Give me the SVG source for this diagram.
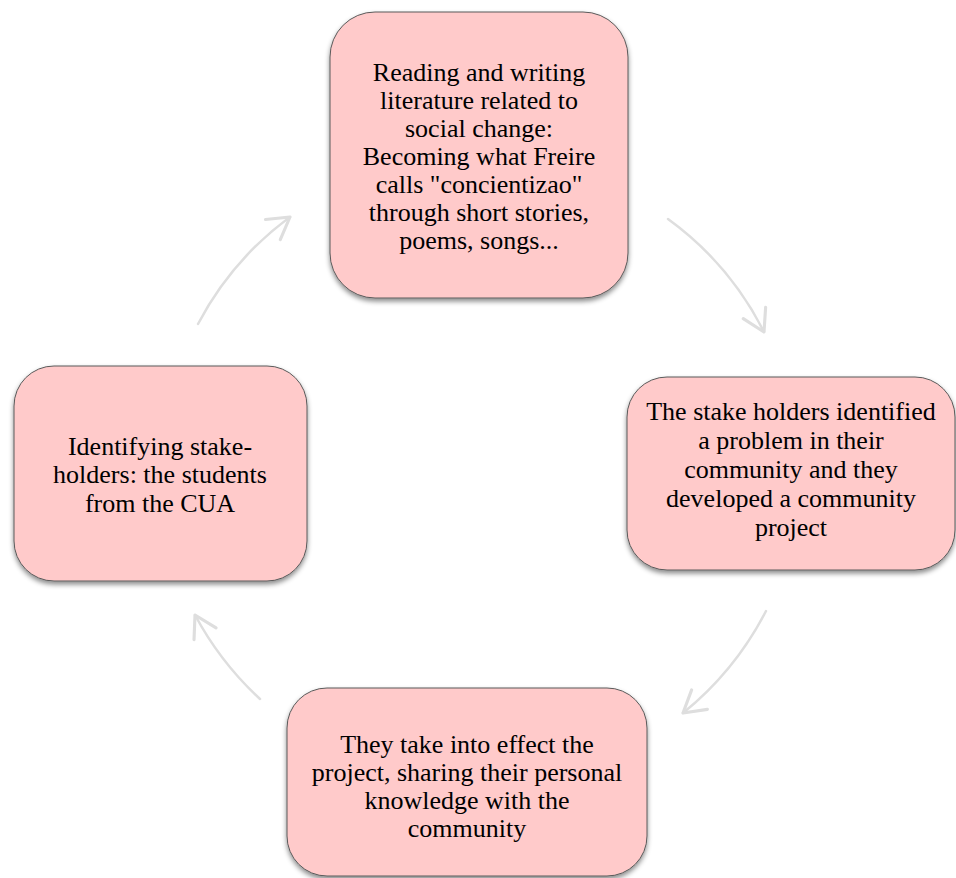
<svg xmlns="http://www.w3.org/2000/svg" width="956" height="878" viewBox="0 0 956 878">
<style>
.box{fill:#ffcaca;stroke:#5a5a5a;stroke-width:1;filter:url(#sh);}
.t{font-family:"Liberation Serif","Times New Roman",serif;font-size:26px;fill:#000;text-anchor:middle;}
.arc{fill:none;stroke:#dedede;stroke-width:2.5;stroke-linecap:round;marker-end:url(#ah);}
</style>
<defs>
<filter id="sh" x="-10%" y="-10%" width="120%" height="125%">
<feDropShadow dx="0" dy="3" stdDeviation="2.5" flood-color="#000" flood-opacity="0.45"/>
</filter>
<marker id="ah" markerUnits="userSpaceOnUse" markerWidth="30" markerHeight="30" viewBox="-20 -12 24 24" refX="0" refY="0" orient="auto">
<path d="M -17 -10 L 0 0 L -17 10" fill="none" stroke="#dedede" stroke-width="2.5" stroke-linecap="round" stroke-linejoin="round"/>
</marker>
</defs>
<rect width="956" height="878" fill="#fff"/>
<g id="connectors">
<path class="arc" d="M 198 324 A 314 314 0 0 1 290 217"/>
<path class="arc" d="M 668 219 A 314 314 0 0 1 764 332"/>
<path class="arc" d="M 766 611 A 320 320 0 0 1 683 713"/>
<path class="arc" d="M 260 699 A 320 320 0 0 1 195 615"/>
</g>
<g id="node-top">
<rect class="box" x="330" y="12" width="298" height="286" rx="45"/>
<text class="t"><tspan x="479" y="81">Reading and writing</tspan><tspan x="479" y="109">literature related to</tspan><tspan x="479" y="137">social change:</tspan><tspan x="479" y="165">Becoming what Freire</tspan><tspan x="479" y="193">calls "concientizao"</tspan><tspan x="479" y="221">through short stories,</tspan><tspan x="479" y="249">poems, songs...</tspan></text>
</g>
<g id="node-right">
<rect class="box" x="627" y="377" width="328" height="193" rx="40"/>
<text class="t"><tspan x="791" y="420">The stake holders identified</tspan><tspan x="791" y="449">a problem in their</tspan><tspan x="791" y="478">community and they</tspan><tspan x="791" y="507">developed a community</tspan><tspan x="791" y="536">project</tspan></text>
</g>
<g id="node-bottom">
<rect class="box" x="287" y="688" width="360" height="188" rx="40"/>
<text class="t"><tspan x="467" y="753">They take into effect the</tspan><tspan x="467" y="781">project, sharing their personal</tspan><tspan x="467" y="809">knowledge with the</tspan><tspan x="467" y="837">community</tspan></text>
</g>
<g id="node-left">
<rect class="box" x="14" y="366" width="293" height="215" rx="40"/>
<text class="t"><tspan x="160" y="455">Identifying stake-</tspan><tspan x="160" y="483">holders: the students</tspan><tspan x="160" y="512">from the CUA</tspan></text>
</g>
</svg>
